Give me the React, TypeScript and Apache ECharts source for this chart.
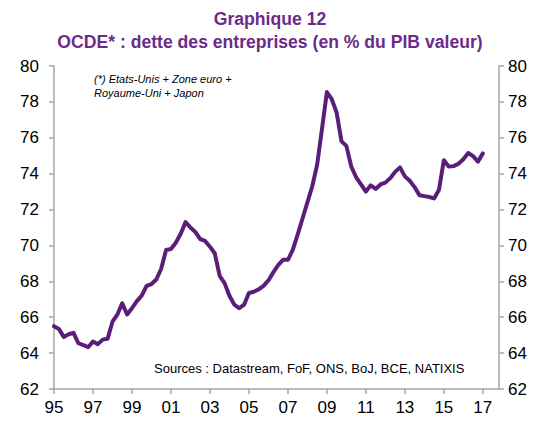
import React, { useEffect, useRef } from "react";
import * as echarts from "echarts";

const startYear = 1995;
// Quarterly values, 1995 Q1 onwards (% of GDP)
const debtValues = [
  65.5, 65.35, 64.9, 65.05, 65.13, 64.55, 64.45, 64.33, 64.65, 64.5, 64.75, 64.8,
  65.75, 66.15, 66.77, 66.15, 66.5, 66.9, 67.2, 67.75, 67.85, 68.1, 68.7, 69.75,
  69.8, 70.15, 70.65, 71.3, 71.0, 70.75, 70.35, 70.25, 69.93, 69.55, 68.3, 67.9,
  67.2, 66.7, 66.5, 66.7, 67.35, 67.42, 67.55, 67.75, 68.05, 68.5, 68.9, 69.2,
  69.2, 69.75, 70.6, 71.5, 72.4, 73.3, 74.5, 76.5, 78.55, 78.15, 77.4, 75.8,
  75.55, 74.4, 73.8, 73.4, 73.0, 73.35, 73.15, 73.4, 73.5, 73.75, 74.1, 74.35,
  73.85, 73.6, 73.25, 72.8, 72.75, 72.7, 72.62, 73.1, 74.75, 74.4, 74.42, 74.55,
  74.8, 75.15, 74.98, 74.67, 75.13,
];
const yTicks = [62, 64, 66, 68, 70, 72, 74, 76, 78, 80];
const titleLines = ["Graphique 12", "OCDE* : dette des entreprises (en % du PIB valeur)"];
const noteLines = ["(*) Etats-Unis + Zone euro +", "Royaume-Uni + Japon"];
const sourceText = "Sources : Datastream, FoF, ONS, BoJ, BCE, NATIXIS";

export default function App() {
  const ref = useRef<HTMLDivElement>(null);
  useEffect(() => {
    if (!ref.current) return;
    const chart = echarts.init(ref.current, null, { renderer: "svg" });
    const font = "'Liberation Sans', Arial, sans-serif";
    const axisColor = "#a6a6a6";
    const data = debtValues.map((v, i) => [startYear + i / 4, v]);
    const yAxisBase = {
      type: "value" as const,
      min: yTicks[0],
      max: yTicks[yTicks.length - 1],
      interval: 2,
      splitLine: { show: false },
      axisLine: { show: true, lineStyle: { color: axisColor, width: 1.5 } },
      axisTick: { show: true, length: 5, lineStyle: { color: axisColor, width: 1.5 } },
    };
    chart.setOption({
      animation: false,
      title: {
        text: titleLines.join("\n"),
        left: "center",
        top: 2,
        textStyle: {
          fontFamily: font,
          fontSize: 17.6,
          fontWeight: "bold",
          color: "#6a2c88",
          lineHeight: 23,
          align: "center",
        },
      },
      grid: { left: 54, right: 41, top: 66, bottom: 39, containLabel: false },
      xAxis: {
        type: "value",
        min: 1995,
        max: 2017.83,
        interval: 2,
        splitLine: { show: false },
        axisLine: { show: true, lineStyle: { color: axisColor, width: 1.5 } },
        axisTick: { show: true, length: 5, lineStyle: { color: axisColor, width: 1.5 } },
        axisLabel: {
          fontFamily: font,
          fontSize: 17,
          color: "#000",
          margin: 10,
          showMaxLabel: false,
          formatter: (v: number) =>
            Math.abs(v - Math.round(v)) < 1e-6 ? String(Math.round(v) % 100).padStart(2, "0") : "",
        },
      },
      yAxis: [
        {
          ...yAxisBase,
          position: "left",
          axisLabel: { fontFamily: font, fontSize: 17, color: "#000", margin: 15 },
        },
        {
          ...yAxisBase,
          position: "right",
          axisLabel: { fontFamily: font, fontSize: 17, color: "#000", margin: 9 },
        },
      ],
      series: [
        {
          type: "line",
          yAxisIndex: 0,
          data,
          showSymbol: false,
          symbol: "none",
          lineStyle: { color: "#5a1e7a", width: 4, join: "round", cap: "round" },
        },
      ],
      graphic: [
        {
          type: "text",
          left: 94,
          top: 72,
          style: {
            text: noteLines.join("\n"),
            font: `italic 11px ${font}`,
            fill: "#000",
            lineHeight: 14,
          },
        },
        {
          type: "text",
          left: 154,
          top: 362,
          style: {
            text: sourceText,
            font: `13px ${font}`,
            fill: "#000",
          },
        },
      ],
    });
    return () => chart.dispose();
  }, []);
  return <div ref={ref} style={{ width: 540, height: 428, margin: -8 }} />;
}
